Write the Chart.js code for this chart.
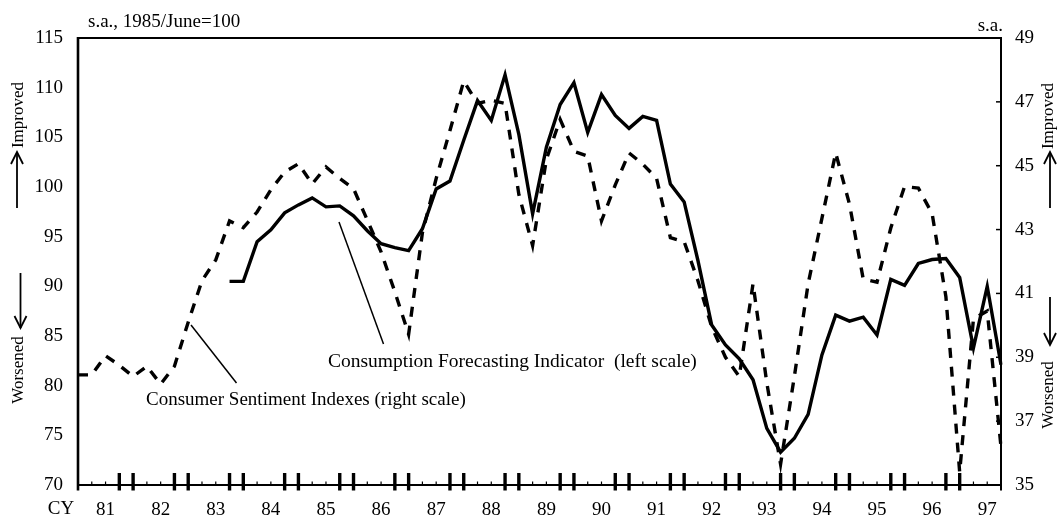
<!DOCTYPE html>
<html>
<head>
<meta charset="utf-8">
<script src="https://cdn.jsdelivr.net/npm/chart.js@4.4.1/dist/chart.umd.min.js"></script>
<style>
html,body{margin:0;padding:0;background:#fff;}
#wrap{width:1058px;height:520px;position:relative;}
</style>
</head>
<body>
<div id="wrap"><canvas id="c"></canvas></div>
<script>
// Quarterly categories, 1981 Q1 .. 1997 Q4
const quarters = [
 "81Q1","81Q2","81Q3","81Q4","82Q1","82Q2","82Q3","82Q4",
 "83Q1","83Q2","83Q3","83Q4","84Q1","84Q2","84Q3","84Q4",
 "85Q1","85Q2","85Q3","85Q4","86Q1","86Q2","86Q3","86Q4",
 "87Q1","87Q2","87Q3","87Q4","88Q1","88Q2","88Q3","88Q4",
 "89Q1","89Q2","89Q3","89Q4","90Q1","90Q2","90Q3","90Q4",
 "91Q1","91Q2","91Q3","91Q4","92Q1","92Q2","92Q3","92Q4",
 "93Q1","93Q2","93Q3","93Q4","94Q1","94Q2","94Q3","94Q4",
 "95Q1","95Q2","95Q3","95Q4","96Q1","96Q2","96Q3","96Q4",
 "97Q1","97Q2","97Q3","97Q4"
];
const yearLabels = ["81","82","83","84","85","86","87","88","89","90","91","92","93","94","95","96","97"];

// Consumption Forecasting Indicator (left scale, s.a., 1985/June=100)
const forecastingIndicator = [
 null,null,null,null,null,null,null,null,
 null,null,null,90.5,90.5,94.5,95.7,97.4,
 98.2,98.9,98.0,98.1,97.1,95.6,94.3,93.9,
 93.6,95.8,99.8,100.6,104.7,108.7,106.7,111.3,
 105.3,97.3,104.0,108.3,110.5,105.5,109.3,107.2,
 105.9,107.1,106.7,100.3,98.5,92.6,86.1,84.1,
 82.7,80.6,75.7,73.3,74.7,77.1,83.1,87.1,
 86.5,86.9,85.1,90.7,90.1,92.3,92.7,92.8,
 90.9,83.8,90.0,82.1
];

// Consumer Sentiment Indexes (right scale, s.a.)
const sentimentIndexes = [
 38.45,38.45,39.05,38.75,38.4,38.72,38.16,38.72,
 40.1,41.4,42.05,43.27,43.06,43.55,44.25,44.8,
 45.06,44.43,44.96,44.6,44.28,43.3,42.3,41.05,
 39.72,42.9,44.6,46.1,47.65,46.95,47.05,46.95,
 44.1,42.5,45.2,46.45,45.45,45.3,43.27,44.4,
 45.4,45.05,44.6,42.75,42.62,41.4,39.95,39.0,
 38.4,41.3,38.2,35.65,38.4,41.3,43.35,45.4,
 43.8,41.45,41.35,43.05,44.35,44.3,43.5,40.9,
 35.4,40.2,40.45,36.2
];

const leftTicks = [70,75,80,85,90,95,100,105,110,115];
const rightTicks = [35,37,39,41,43,45,47,49];

const FONT = "'Liberation Serif','Times New Roman',serif";
Chart.defaults.font.family = FONT;
Chart.defaults.color = '#000';

function seg(ctx, x1, y1, x2, y2) {
  ctx.beginPath(); ctx.moveTo(x1, y1); ctx.lineTo(x2, y2); ctx.stroke();
}
function arrow(ctx, x, yTail, yHead) {
  const dir = yHead < yTail ? 1 : -1;
  ctx.lineWidth = 1.8;
  seg(ctx, x, yTail, x, yHead);
  ctx.beginPath();
  ctx.moveTo(x - 6, yHead + dir * 12);
  ctx.lineTo(x, yHead);
  ctx.lineTo(x + 6, yHead + dir * 12);
  ctx.stroke();
}
function vtext(ctx, txt, x, y) {
  ctx.save();
  ctx.translate(x, y);
  ctx.rotate(-Math.PI / 2);
  ctx.textAlign = 'center';
  ctx.textBaseline = 'middle';
  ctx.fillText(txt, 0, 0);
  ctx.restore();
}

const overlay = {
  id: 'overlay',
  afterDatasetsDraw(chart) {
    const { ctx, chartArea: a, scales } = chart;
    const xs = scales.x, yR = scales.y1;
    ctx.save();
    ctx.strokeStyle = '#000';
    ctx.lineCap = 'butt';
    // frame
    ctx.lineWidth = 2;
    seg(ctx, a.left, a.top, a.right, a.top);
    seg(ctx, a.left, a.bottom, a.right, a.bottom);
    ctx.lineWidth = 2.6;
    seg(ctx, a.left, a.top - 1, a.left, a.bottom + 5.5);
    ctx.lineWidth = 2;
    seg(ctx, a.right, a.top - 1, a.right, a.bottom + 5.5);
    // x-axis tick marks (quarters)
    for (let i = 1; i < quarters.length - 1; i++) {
      const px = xs.getPixelForValue(i);
      const m = i % 4;
      if (m === 3 || m === 0) {
        ctx.lineWidth = 3.4;
        seg(ctx, px, a.bottom - 12, px, a.bottom + 5.5);
      } else {
        ctx.lineWidth = 1.2;
        seg(ctx, px, a.bottom - 3.5, px, a.bottom);
      }
    }
    // right-axis inward ticks
    ctx.lineWidth = 1.5;
    for (const v of rightTicks.slice(1, -1)) {
      const py = yR.getPixelForValue(v);
      seg(ctx, a.right - 5, py, a.right, py);
    }
    ctx.restore();
  },
  afterDraw(chart) {
    const { ctx } = chart;
    ctx.save();
    ctx.fillStyle = '#000';
    ctx.strokeStyle = '#000';
    ctx.font = "19px " + FONT;
    ctx.textBaseline = 'alphabetic';
    ctx.textAlign = 'left';
    ctx.fillText('s.a., 1985/June=100', 88, 27);
    ctx.textAlign = 'right';
    ctx.fillText('s.a.', 1003, 30.5);
    ctx.textAlign = 'center';
    ctx.fillText('CY', 61, 514);

    ctx.font = "19.5px " + FONT;
    ctx.textAlign = 'left';
    ctx.fillText('Consumption Forecasting Indicator  (left scale)', 328, 367);
    ctx.font = "19px " + FONT;
    ctx.fillText('Consumer Sentiment Indexes (right scale)', 146, 405);

    // leader lines
    ctx.lineWidth = 1.5;
    seg(ctx, 191, 325, 236.5, 383);
    seg(ctx, 339, 222, 383.5, 344);

    // side labels with arrows
    ctx.font = "17px " + FONT;
    vtext(ctx, 'Improved', 18.5, 115);
    vtext(ctx, 'Worsened', 18.5, 370);
    vtext(ctx, 'Improved', 1049, 116);
    vtext(ctx, 'Worsened', 1049, 395);
    arrow(ctx, 17, 208, 152);
    arrow(ctx, 20.5, 273, 328);
    arrow(ctx, 1050, 208, 152);
    arrow(ctx, 1050, 297, 345);
    ctx.restore();
  }
};

new Chart(document.getElementById('c'), {
  type: 'line',
  data: {
    labels: quarters,
    datasets: [
      {
        label: 'Consumption Forecasting Indicator (left scale)',
        data: forecastingIndicator,
        yAxisID: 'y',
        borderColor: '#000',
        borderWidth: 3.4,
        pointRadius: 0,
        tension: 0,
        fill: false,
        spanGaps: false,
        borderJoinStyle: 'miter'
      },
      {
        label: 'Consumer Sentiment Indexes (right scale)',
        data: sentimentIndexes,
        yAxisID: 'y1',
        borderColor: '#000',
        borderWidth: 3.4,
        borderDash: [10, 9],
        pointRadius: 0,
        tension: 0,
        fill: false
      }
    ]
  },
  options: {
    responsive: true,
    maintainAspectRatio: false,
    animation: false,
    layout: { padding: { top: 38, left: 0, right: 0, bottom: 0 } },
    plugins: { legend: { display: false }, tooltip: { enabled: false }, title: { display: false } },
    scales: {
      x: {
        type: 'category',
        offset: false,
        grid: { display: false, drawTicks: false },
        border: { display: false },
        ticks: {
          autoSkip: false, maxRotation: 0, minRotation: 0, padding: 14,
          color: '#000', font: { size: 19 },
          callback: function (v, i) { return i % 4 === 2 ? yearLabels[(i - 2) / 4] : ''; }
        },
        afterFit(s) { s.height = 35; }
      },
      y: {
        position: 'left',
        min: leftTicks[0], max: leftTicks[leftTicks.length - 1],
        grid: { display: false, drawTicks: false },
        border: { display: false },
        ticks: { stepSize: 5, padding: 15, color: '#000', font: { size: 19 } },
        afterFit(s) { s.width = 78; }
      },
      y1: {
        position: 'right',
        min: rightTicks[0], max: rightTicks[rightTicks.length - 1],
        grid: { display: false, drawTicks: false },
        border: { display: false },
        ticks: { stepSize: 2, padding: 14, color: '#000', font: { size: 19 } },
        afterFit(s) { s.width = 57; }
      }
    }
  },
  plugins: [overlay]
});
</script>
</body>
</html>
